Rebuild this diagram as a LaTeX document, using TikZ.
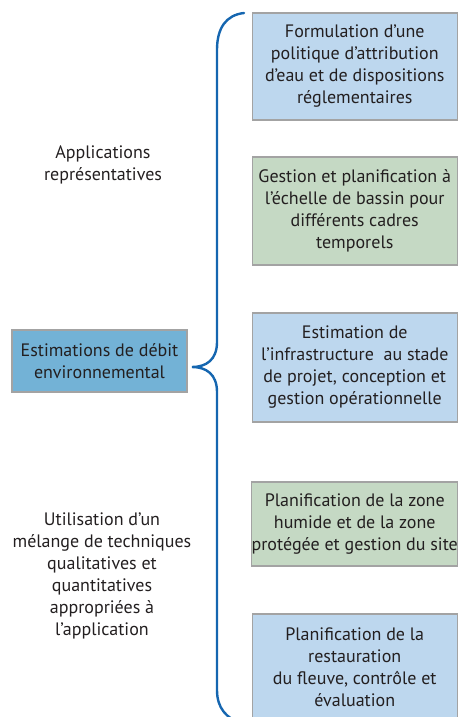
\documentclass[tikz,border=0pt]{standalone}
\usepackage{fontspec}
\setmainfont{PT Sans}
\definecolor{boxblue}{HTML}{BDD7EE}
\definecolor{boxgreen}{HTML}{C5D9C4}
\definecolor{mainblue}{HTML}{73B2D6}
\definecolor{bracecol}{HTML}{1566B0}
\definecolor{txt}{HTML}{231F20}
\definecolor{edge}{HTML}{A3A3A3}
\begin{document}
\begin{tikzpicture}[x=1pt,y=-1pt,
  font=\fontsize{18}{22}\selectfont, text=txt,
  box/.style={draw=edge, line width=1.1pt, minimum width=205pt, align=center, inner sep=0pt},
  bluebox/.style={box, fill=boxblue},
  greenbox/.style={box, fill=boxgreen},
  mainbox/.style={draw=edge, line width=1.1pt, fill=mainblue, minimum width=175pt, minimum height=62pt, align=center, inner sep=0pt},
  label/.style={align=center},
  brace/.style={draw=bracecol, line width=2.4pt, line cap=round}]
\useasboundingbox (0,0) rectangle (458,717);
\clip (0,0) rectangle (458,717);
\node[bluebox, minimum height=107pt] (b1) at (354.75,66.5) {Formulation d’une\\politique d’attribution\\d’eau et de dispositions\\réglementaires};
\node[greenbox, minimum height=108pt] (b2) at (354.75,211) {Gestion et planification à\\l’échelle de bassin pour\\différents cadres\\temporels};
\node[bluebox, minimum height=109pt] (b3) at (354.75,367.5) {Estimation de\\l’infrastructure\ \ au stade\\de projet, conception et\\gestion opérationnelle};
\node[greenbox, minimum height=84pt] (b4) at (354.75,524) {Planification de la zone\\humide et de la zone\\protégée et gestion du site};
\node[bluebox, minimum height=106pt] (b5) at (354.75,667) {Planification de la\\restauration\\du fleuve, contrôle et\\évaluation};
\node[mainbox] (m) at (99.5,361) {Estimations de débit\\environnemental};
\node[label] (l1) at (103,165) {Applications\\représentatives};
\node[label] (l2) at (102,576) {Utilisation d’un\\mélange de techniques\\qualitatives et\\quantitatives\\appropriées à\\l’application};
\coordinate (top) at (244,13);
\coordinate (tip) at (192,367);
\coordinate (bot) at (242,724);
\draw[brace] (top) .. controls (226,15) and (217,28) .. (217,50) -- (217,342)
  .. controls (217,360) and (206,367) .. (tip)
  .. controls (206,367) and (217,374) .. (217,392) -- (217,690)
  .. controls (217,708) and (226,718) .. (bot);
\end{tikzpicture}
\end{document}
